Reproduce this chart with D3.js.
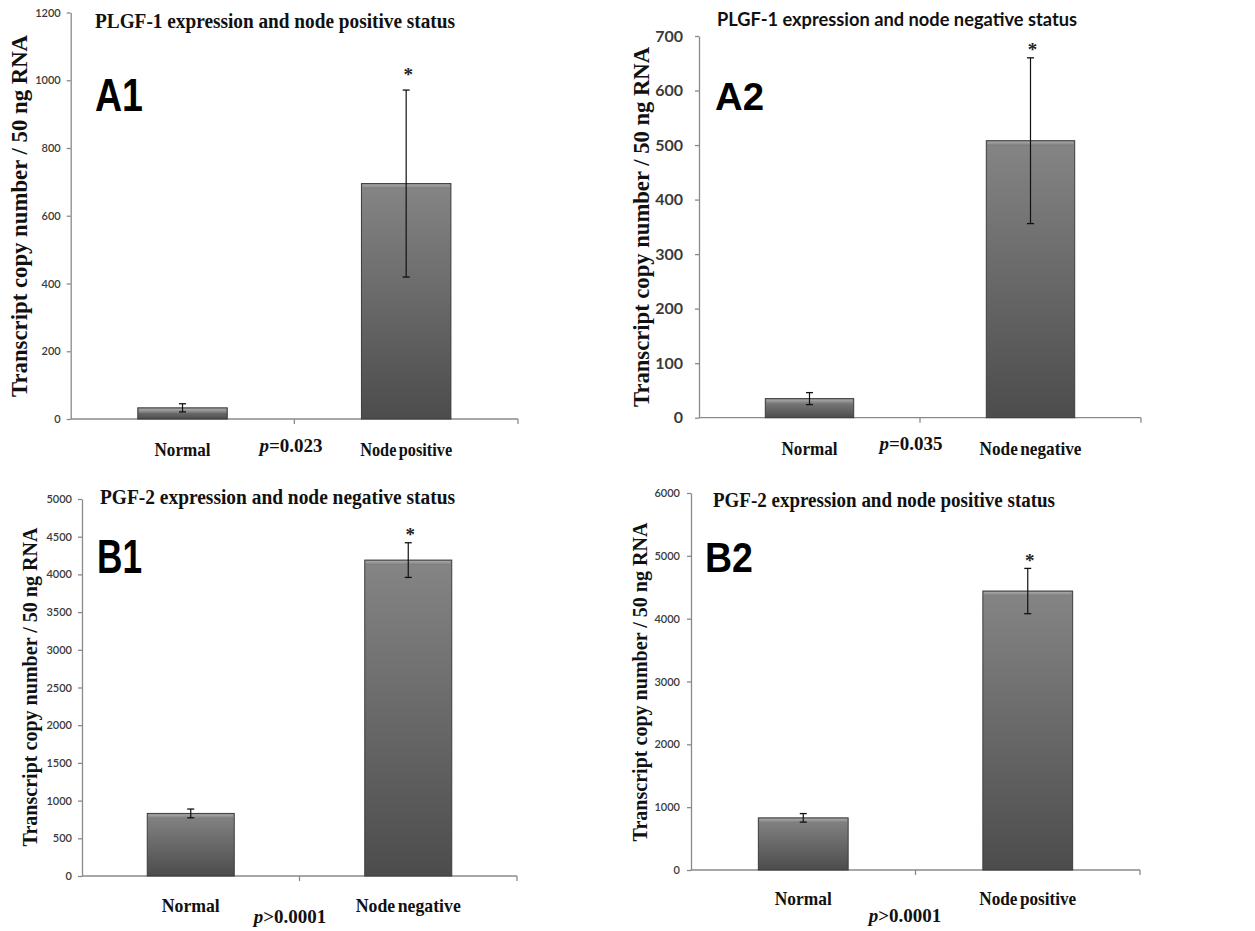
<!DOCTYPE html>
<html><head><meta charset="utf-8">
<script src="https://cdn.jsdelivr.net/npm/d3@7"></script>
<style>body{margin:0;background:#fff}</style></head><body>
<svg id="c" width="1255" height="931"></svg>
<script>
// ---- data ----
const panelIds = ["A1", "A2", "B1", "B2"];
const panelTitles = [
  "PLGF-1 expression and node positive status",
  "PLGF-1 expression and node negative status",
  "PGF-2 expression and node negative status",
  "PGF-2 expression and node positive status"
];
const categories = [
  ["Normal", "Node positive"],
  ["Normal", "Node negative"],
  ["Normal", "Node negative"],
  ["Normal", "Node positive"]
];
const meanValues = [[33, 695], [35, 508], [830, 4190], [830, 4440]];
const errorValues = [[12, 276], [11, 152], [58, 230], [68, 360]];
const yMax = [1200, 700, 5000, 6000];
const yStep = [200, 100, 500, 1000];
const pOperators = ["=", "=", ">", ">"];
const pNumbers = ["0.023", "0.035", "0.0001", "0.0001"];
const yAxisTitle = "Transcript copy number / 50 ng RNA";

// ---- layout ----
const layout = [
  {ax:70.7, xEnd:518, y0:419, yTop:12.5, tickFont:"11px", tickWeight:600, tickPad:6,
   tcx:275, tby:28, tlen:360, tFam:"'Liberation Serif', serif", tsize:20,
   lx:95, lby:111, lsize:47, llen:48,
   ycx:19, ycy:216, ylen:362, ysize:23,
   xlby:456, pby:452, pcx:291, xlen:[56, 92]},
  {ax:699, xEnd:1141, y0:417.7, yTop:36, tickFont:"16px", tickWeight:700, tickPad:12,
   tcx:897, tby:26, tlen:360, tFam:"Lato, sans-serif", tsize:19,
   lx:715, lby:110, lsize:39, llen:49,
   ycx:641, ycy:227, ylen:360, ysize:23,
   xlby:455, pby:450, pcx:911, xlen:[56, 102]},
  {ax:82, xEnd:517, y0:876, yTop:499, tickFont:"11px", tickWeight:600, tickPad:6,
   tcx:277.5, tby:504, tlen:355, tFam:"'Liberation Serif', serif", tsize:20,
   lx:97, lby:573, lsize:48, llen:45,
   ycx:30, ycy:687, ylen:319, ysize:21,
   xlby:912, pby:923, pcx:290, xlen:[58, 105]},
  {ax:691, xEnd:1140, y0:870, yTop:493, tickFont:"11px", tickWeight:600, tickPad:7,
   tcx:884, tby:507, tlen:342, tFam:"'Liberation Serif', serif", tsize:20,
   lx:705, lby:572, lsize:42, llen:48,
   ycx:640, ycy:682, ylen:319, ysize:21,
   xlby:905, pby:922, pcx:905, xlen:[57, 97]}
];
const starOffsets = [19, 12, 12, 11];

const svg = d3.select("#c");
const defs = svg.append("defs");
const grad = defs.append("linearGradient").attr("id","barGrad")
  .attr("x1",0).attr("y1",0).attr("x2",0).attr("y2",1);
grad.append("stop").attr("offset","0%").attr("stop-color","#858585");
grad.append("stop").attr("offset","100%").attr("stop-color","#4c4c4c");
const bev = defs.append("linearGradient").attr("id","bevGrad")
  .attr("x1",0).attr("y1",0).attr("x2",0).attr("y2",1);
bev.append("stop").attr("offset","0%").attr("stop-color","#a8a8a8");
bev.append("stop").attr("offset","100%").attr("stop-color","#7a7a7a");

const serif = "'Liberation Serif','Times New Roman',serif";
const axisColor = "#8a8a8a";

panelIds.forEach((id, i) => {
  const L = layout[i];
  const g = svg.append("g");
  const y = d3.scaleLinear().domain([0, yMax[i]]).range([L.y0, L.yTop]);
  const x = d3.scaleBand().domain(categories[i]).range([L.ax, L.xEnd])
    .paddingInner(0.6).paddingOuter(0.3);

  // y axis
  const yAxis = d3.axisLeft(y).tickValues(d3.range(0, yMax[i] + 1, yStep[i]))
    .tickSize(4).tickPadding(L.tickPad).tickSizeOuter(0).tickFormat(d3.format("d"));
  const ya = g.append("g").attr("transform", `translate(${L.ax},0)`).call(yAxis);
  ya.select(".domain").attr("stroke", axisColor).attr("stroke-width", 1.3);
  ya.selectAll(".tick line").attr("stroke", axisColor).attr("stroke-width", 1.3);
  ya.selectAll(".tick text").attr("fill", "#3a3a3a")
    .style("font-family", "Lato, 'Open Sans', sans-serif")
    .style("font-size", L.tickFont).style("font-weight", L.tickWeight);

  // x axis line with boundary ticks
  const bounds = [L.ax + (L.xEnd - L.ax) / 2, L.xEnd];
  g.append("line").attr("x1", L.ax).attr("x2", L.xEnd).attr("y1", L.y0).attr("y2", L.y0)
    .attr("stroke", axisColor).attr("stroke-width", 1.3);
  g.selectAll(".xt").data(bounds).join("line")
    .attr("x1", d => d).attr("x2", d => d).attr("y1", L.y0).attr("y2", L.y0 + 5)
    .attr("stroke", axisColor).attr("stroke-width", 1.3);

  const data = categories[i].map((c, k) => ({c, k, v: meanValues[i][k], e: errorValues[i][k]}));

  // bars
  g.selectAll(".bar").data(data).join("rect")
    .attr("x", d => x(d.c)).attr("width", x.bandwidth())
    .attr("y", d => y(d.v)).attr("height", d => L.y0 - y(d.v))
    .attr("fill", "url(#barGrad)").attr("stroke", "#3c3c3c").attr("stroke-width", 1);
  g.selectAll(".bev").data(data).join("rect")
    .attr("x", d => x(d.c) + 1).attr("width", x.bandwidth() - 2)
    .attr("y", d => y(d.v) + 1).attr("height", d => Math.min(4, (L.y0 - y(d.v)) / 2))
    .attr("fill", "url(#bevGrad)");

  // error bars
  const cap = 3.5;
  data.forEach(d => {
    const cx = x(d.c) + x.bandwidth() / 2;
    const t = y(d.v + d.e), b = y(d.v - d.e);
    g.append("line").attr("x1", cx).attr("x2", cx).attr("y1", t).attr("y2", b)
      .attr("stroke", "#111").attr("stroke-width", 1.2);
    [t, b].forEach(yy => g.append("line").attr("x1", cx - cap).attr("x2", cx + cap)
      .attr("y1", yy).attr("y2", yy).attr("stroke", "#111").attr("stroke-width", 1.3));
  });

  // asterisk on the second bar
  const d2 = data[1];
  g.append("text").attr("x", x(d2.c) + x.bandwidth() / 2 + 2)
    .attr("y", y(d2.v + d2.e) - starOffsets[i] + 10)
    .attr("text-anchor", "middle").style("font-family", serif)
    .style("font-weight", 700).style("font-size", "19px").attr("fill", "#222").text("*");

  // category labels
  g.selectAll(".cl").data(data).join("text")
    .attr("x", d => x(d.c) + x.bandwidth() / 2).attr("y", L.xlby)
    .attr("text-anchor", "middle").style("font-family", serif)
    .style("font-weight", 700).style("font-size", "19px").style("word-spacing", "-2px")
    .attr("textLength", d => L.xlen[d.k]).attr("lengthAdjust", "spacingAndGlyphs")
    .attr("fill", "#111").text(d => d.c);

  // p value
  const pt = g.append("text").attr("x", L.pcx).attr("y", L.pby).attr("text-anchor", "middle")
    .style("font-family", serif).style("font-size", "19px").attr("fill", "#111");
  pt.append("tspan").style("font-style", "italic").style("font-weight", 700).text("p");
  pt.append("tspan").style("font-weight", 700).text(pOperators[i] + pNumbers[i]);

  // title
  g.append("text").attr("x", L.tcx).attr("y", L.tby).attr("text-anchor", "middle")
    .style("font-family", L.tFam).style("font-weight", 700).style("font-size", L.tsize + "px")
    .attr("textLength", L.tlen).attr("lengthAdjust", "spacingAndGlyphs")
    .attr("fill", "#111").text(panelTitles[i]);

  // panel letter
  g.append("text").attr("x", L.lx).attr("y", L.lby)
    .style("font-family", "'Liberation Sans Narrow','Liberation Sans',Arial,sans-serif")
    .style("font-weight", 700).style("font-size", L.lsize + "px")
    .attr("textLength", L.llen).attr("lengthAdjust", "spacingAndGlyphs")
    .attr("fill", "#000").text(id);

  // y axis title
  g.append("text").attr("transform", `translate(${L.ycx},${L.ycy}) rotate(-90)`)
    .attr("text-anchor", "middle").attr("dy", "0.35em")
    .style("font-family", serif).style("font-weight", 700).style("font-size", L.ysize + "px")
    .attr("textLength", L.ylen).attr("lengthAdjust", "spacingAndGlyphs")
    .attr("fill", "#111").text(yAxisTitle);
});
</script>
</body></html>
